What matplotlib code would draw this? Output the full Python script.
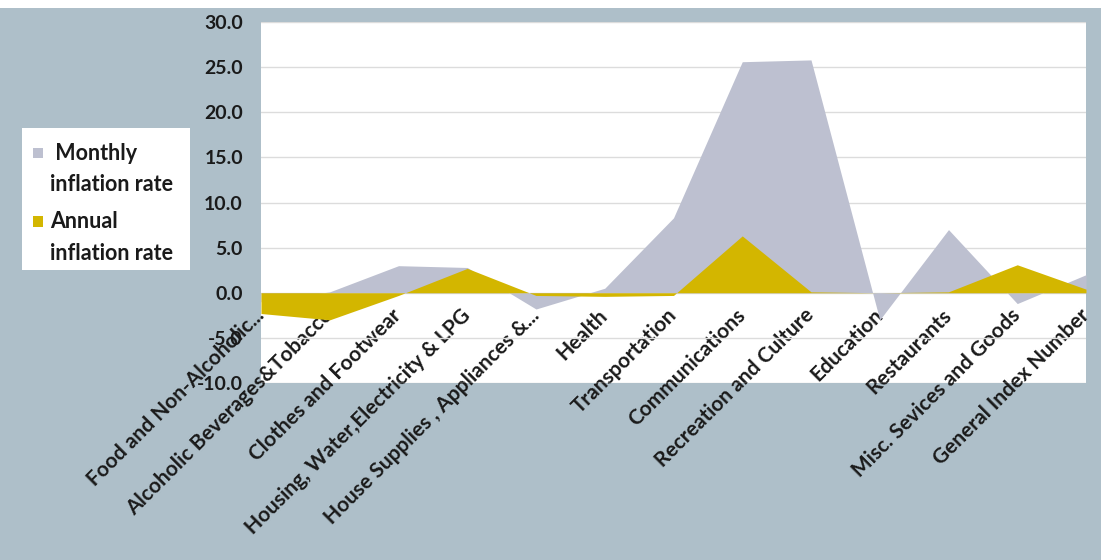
import matplotlib
matplotlib.use("Agg")
import matplotlib.pyplot as plt
from matplotlib.patches import Patch, Rectangle
from matplotlib.legend_handler import HandlerPatch

plt.rcParams['font.family'] = ['Lato', 'DejaVu Sans']

categories = ["Food and Non-Alcoholic...", "Alcoholic Beverages&Tobacco",
              "Clothes and Footwear", "Housing, Water,Electricity & LPG",
              "House Supplies , Appliances &...", "Health", "Transportation",
              "Communications", "Recreation and Culture", "Education",
              "Restaurants", "Misc. Sevices and Goods", "General Index Number"]
monthly = [-1.0, 0.1, 3.0, 2.8, -1.8, 0.5, 8.3, 25.6, 25.8, -3.0, 7.0, -1.2, 2.0]
annual = [-2.3, -3.0, -0.3, 2.7, -0.3, -0.4, -0.3, 6.3, 0.1, 0.0, 0.1, 3.1, 0.4]
yticks = [-10, -5, 0, 5, 10, 15, 20, 25, 30]

BG = '#AEBFC9'
GRAY = '#BDC0D0'
GOLD = '#D3B600'
TXT = '#1A1A1A'

W, H = 1101, 560
fig = plt.figure(figsize=(W / 100, H / 100), dpi=100, facecolor='white')
fig.patches.append(Rectangle((0, 0), 1, (H - 8) / H, transform=fig.transFigure,
                             facecolor=BG, edgecolor='none', zorder=-10))
# white legend panel
fig.patches.append(Rectangle((22 / W, 1 - 270 / H), (190 - 22) / W, (270 - 128) / H,
                             transform=fig.transFigure, facecolor='white',
                             edgecolor='none', zorder=-5))

ax = fig.add_axes([261 / W, 1 - 383 / H, 825 / W, (383 - 22) / H])
ax.set_facecolor('white')

x = list(range(len(categories)))
ax.fill_between(x, 0, monthly, color=GRAY, linewidth=0, zorder=2)
ax.fill_between(x, 0, annual, color=GOLD, linewidth=0, zorder=3)

ax.set_xlim(0, len(categories) - 1)
ax.set_ylim(-10, 30)
ax.set_yticks(yticks)
ax.set_yticklabels([f"{v:.1f}" for v in yticks], fontsize=14,
                   fontweight='bold', color=TXT)
ax.yaxis.grid(True, color='#DCDCDC', linewidth=1, zorder=1)
ax.set_axisbelow(True)
for s in ax.spines.values():
    s.set_visible(False)
ax.tick_params(axis='y', length=0, pad=13)

ax.set_xticks(x)
ax.set_xticklabels(categories, rotation=45, ha='right', va='center',
                   rotation_mode='anchor', fontsize=15, fontweight='bold',
                   color=TXT)
ax.tick_params(axis='x', length=0, pad=-51)

LEG_FS = 15.5
LS = 1.6


def first_line_square(legend, orig_handle, xdescent, ydescent, width, height, fontsize):
    s = 0.48 * fontsize
    pitch = LS * 0.89 * fontsize
    yc = 0.375 * fontsize + pitch / 2 + 0.05 * fontsize
    return Rectangle((-xdescent, yc - s / 2), s, s)


handles = [Patch(facecolor=GRAY, edgecolor='none'),
           Patch(facecolor=GOLD, edgecolor='none')]
labels = [" Monthly\ninflation rate", "Annual\ninflation rate"]
leg = fig.legend(handles, labels, loc='upper left',
                 bbox_to_anchor=(33 / W, 1 - 143 / H), borderaxespad=0,
                 frameon=False, prop={'size': LEG_FS, 'weight': 'bold'},
                 handlelength=0.55, handleheight=0.7, handletextpad=0.25,
                 labelspacing=0.75, borderpad=0,
                 handler_map={Patch: HandlerPatch(patch_func=first_line_square)})
for t in leg.get_texts():
    t.set_color(TXT)
    t.set_linespacing(LS)

fig.savefig("out.png", dpi=100, facecolor=fig.get_facecolor())
